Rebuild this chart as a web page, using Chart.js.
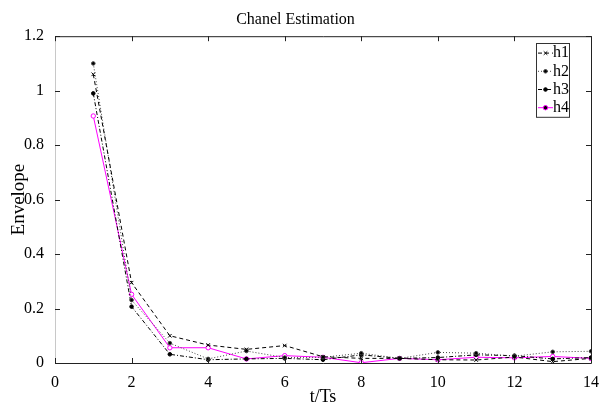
<!DOCTYPE html>
<html>
<head>
<meta charset="utf-8">
<script src="https://cdn.jsdelivr.net/npm/chart.js@4/dist/chart.umd.min.js"></script>
<style>
  html, body { margin: 0; padding: 0; background: #fff; }
  #wrap { width: 601px; height: 408px; }
</style>
</head>
<body>
<div id="wrap"><canvas id="chanel"></canvas></div>
<script>
// data
const tValues = [1, 2, 3, 4, 5, 6, 7, 8, 9, 10, 11, 12, 13, 14];
const h1 = [1.06, 0.295, 0.100, 0.066, 0.050, 0.064, 0.023, 0.017, 0.017, 0.012, 0.011, 0.022, 0.005, 0.017];
const h2 = [1.10, 0.231, 0.073, 0.015, 0.044, 0.020, 0.021, 0.036, 0.017, 0.039, 0.036, 0.025, 0.041, 0.043];
const h3 = [0.99, 0.207, 0.032, 0.012, 0.015, 0.017, 0.012, 0.030, 0.017, 0.020, 0.030, 0.027, 0.015, 0.020];
const h4 = [0.907, 0.252, 0.056, 0.056, 0.015, 0.027, 0.021, 0.001, 0.017, 0.012, 0.021, 0.019, 0.024, 0.017];
const seriesNames = ['h1', 'h2', 'h3', 'h4'];
const xTicks = [0, 2, 4, 6, 8, 10, 12, 14];
const yTicks = [0, 0.2, 0.4, 0.6, 0.8, 1, 1.2];

const serif = "'Liberation Serif', 'DejaVu Serif', serif";

function pts(vals) {
    return vals.map((v, i) => ({ x: tValues[i], y: v }));
}

const styles = [
    { color: '#000', dash: [4, 3], point: 'crossRot', radius: 2.5 },
    { color: '#444', dash: [1, 2], point: 'circle', radius: 1.8 },
    { color: '#000', dash: [4, 2, 1, 2], point: 'circle', radius: 1.8 },
    { color: '#ff00ff', dash: [], point: 'circle', radius: 2.2 }
];

const datasets = [h1, h2, h3, h4].map((vals, i) => ({
    label: seriesNames[i],
    data: pts(vals),
    borderColor: styles[i].color,
    backgroundColor: i === 3 ? '#ffffff' : '#000',
    pointBorderColor: styles[i].color,
    borderWidth: 1,
    borderDash: styles[i].dash,
    pointStyle: styles[i].point,
    pointRadius: styles[i].radius,
    pointBorderWidth: 1,
    tension: 0
}));

// MATLAB-like box with inward ticks and legend
const matlabBox = {
    id: 'matlabBox',
    afterDraw(chart) {
        const c = chart.ctx;
        const a = chart.chartArea;
        const xs = chart.scales.x, ys = chart.scales.y;
        c.save();
        c.lineWidth = 1;
        c.setLineDash([]);
        // left axis line is pale in the original, the rest dark
        c.strokeStyle = '#c8c8c8';
        c.beginPath();
        c.moveTo(a.left + 0.5, a.top); c.lineTo(a.left + 0.5, a.bottom);
        c.stroke();
        c.strokeStyle = '#222';
        c.beginPath();
        c.moveTo(a.left, a.top + 0.5); c.lineTo(a.right + 0.5, a.top + 0.5);
        c.lineTo(a.right + 0.5, a.bottom + 0.5); c.lineTo(a.left, a.bottom + 0.5);
        xTicks.forEach(v => {
            const px = Math.round(xs.getPixelForValue(v)) + 0.5;
            c.moveTo(px, a.bottom); c.lineTo(px, a.bottom - 5);
            c.moveTo(px, a.top); c.lineTo(px, a.top + 5);
        });
        yTicks.forEach(v => {
            const py = Math.round(ys.getPixelForValue(v)) + 0.5;
            c.moveTo(a.left, py); c.lineTo(a.left + 5, py);
            c.moveTo(a.right, py); c.lineTo(a.right - 5, py);
        });
        c.stroke();

        // legend
        const lx = 536, ly = 43, lw = 33, rowH = 18.2;
        c.fillStyle = '#fff';
        c.fillRect(lx, ly, lw, rowH * 4 + 1);
        c.strokeStyle = '#333';
        c.strokeRect(lx + 0.5, ly + 0.5, lw, rowH * 4 + 1);
        c.font = '16px ' + serif;
        c.textBaseline = 'middle';
        datasets.forEach((ds, i) => {
            const y = ly + rowH * i + rowH / 2 + 1;
            c.strokeStyle = ds.borderColor;
            c.setLineDash(ds.borderDash);
            c.beginPath();
            c.moveTo(lx + 2, y); c.lineTo(lx + 17, y);
            c.stroke();
            c.setLineDash([]);
            Chart.helpers.drawPoint(c, {
                pointStyle: ds.pointStyle, radius: ds.pointRadius, borderWidth: 1
            }, lx + 9.5, y);
            c.fillStyle = '#000';
            c.fillText(ds.label, lx + 17, y);
        });
        c.restore();
    }
};

const chart = new Chart(document.getElementById('chanel'), {
    type: 'line',
    data: { datasets: datasets },
    options: {
        responsive: true,
        maintainAspectRatio: false,
        animation: false,
        layout: { padding: { left: 0, right: 10, top: 0, bottom: 0 } },
        plugins: {
            legend: { display: false },
            tooltip: { enabled: false },
            title: {
                display: true,
                text: 'Chanel Estimation',
                color: '#000',
                font: { family: serif, size: 16, weight: 'normal' },
                padding: { top: 10, bottom: 7 }
            }
        },
        scales: {
            x: {
                type: 'linear',
                min: 0, max: 14,
                afterBuildTicks: s => { s.ticks = xTicks.map(v => ({ value: v })); },
                afterFit: s => { s.height = 45; },
                grid: { display: false },
                border: { display: false },
                ticks: {
                    color: '#000',
                    font: { family: serif, size: 16 },
                    padding: 2,
                    maxRotation: 0,
                    callback: v => String(v)
                },
                title: {
                    display: true,
                    text: 't/Ts',
                    color: '#000',
                    font: { family: serif, size: 18 },
                    padding: { top: 0, bottom: 0 }
                }
            },
            y: {
                min: 0, max: 1.2,
                afterBuildTicks: s => { s.ticks = yTicks.map(v => ({ value: v })); },
                afterFit: s => { s.width = 55; },
                grid: { display: false },
                border: { display: false },
                ticks: {
                    color: '#000',
                    font: { family: serif, size: 16 },
                    padding: 3,
                    callback: v => String(v)
                },
                title: {
                    display: true,
                    text: 'Envelope',
                    color: '#000',
                    font: { family: serif, size: 19 },
                    padding: { top: 8, bottom: 0 }
                }
            }
        }
    },
    plugins: [matlabBox]
});
</script>
</body>
</html>
